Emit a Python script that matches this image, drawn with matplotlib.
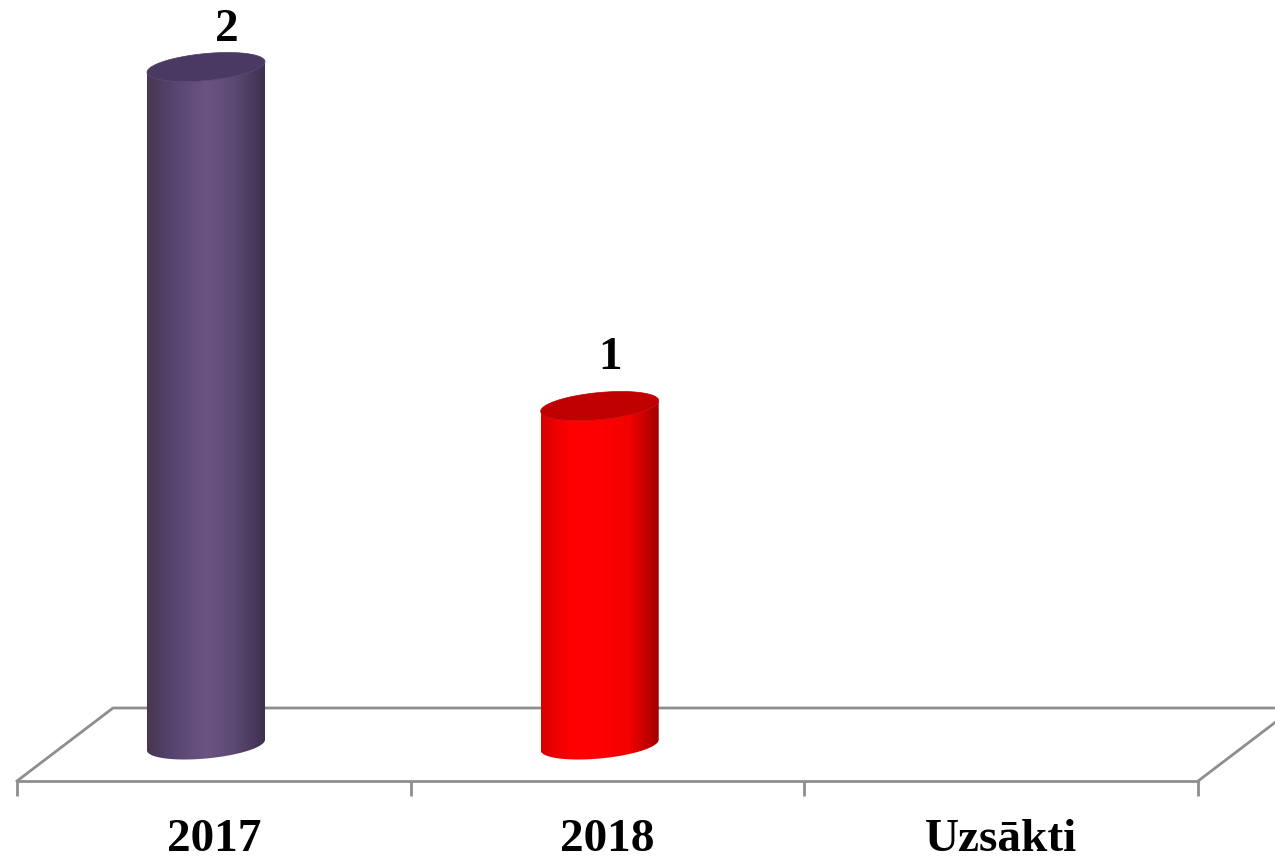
import numpy as np
import matplotlib
matplotlib.use("Agg")
import matplotlib.pyplot as plt
from matplotlib.colors import LinearSegmentedColormap
from matplotlib.patches import Polygon
from matplotlib.ticker import FixedLocator, FixedFormatter, NullFormatter

categories = ["2017", "2018", "Uzsākti"]
values = [2, 1, 0]
value_labels = ["2", "1", ""]
side_colors = [
    ["#463753", "#5a4672", "#6b5482", "#5c4872", "#3e3050"],
    ["#d80000", "#ff0000", "#ff0000", "#f40000", "#a00000"],
    ["#ffffff", "#ffffff", "#ffffff", "#ffffff", "#ffffff"],
]
top_colors = ["#4a3a63", "#c00000", "#ffffff"]
label_offsets = [(21, 37), (10, 48), (0, 0)]

W, H = 1275, 858
PX_X, PX_Y = 393.7, 339.0
X0_PX, Y0_PX = 206.0, 745.0

plt.rcParams["font.family"] = ["Liberation Serif", "DejaVu Serif"]
fig = plt.figure(figsize=(W / 100, H / 100), dpi=100, facecolor="white")
ax = fig.add_axes([0, 0, 1, 1])
ax.set_xlim(-X0_PX / PX_X, (W - X0_PX) / PX_X)
ax.set_ylim((Y0_PX - H) / PX_Y, Y0_PX / PX_Y)
ax.patch.set_alpha(0)

GREY = "#8e8e8e"
LW = 2.0
front_y = (745 - 781) / PX_Y
back_y = (745 - 708) / PX_Y
depth_x = 96 / PX_X
edges = np.array([-0.48, 0.52, 1.52, 2.52])
n = len(categories)

# floor back lines
ax.plot([edges[0], edges[0] + depth_x, ax.get_xlim()[1]], [front_y, back_y, back_y],
        color=GREY, lw=LW, solid_joinstyle="miter", zorder=1)
ax.plot([edges[-1], edges[-1] + depth_x], [front_y, back_y], color=GREY, lw=LW, zorder=1)

# axis
for s in ["top", "left", "right"]:
    ax.spines[s].set_visible(False)
ax.spines["bottom"].set_position(("data", front_y))
ax.spines["bottom"].set_bounds(edges[0], edges[-1])
ax.spines["bottom"].set_color(GREY)
ax.spines["bottom"].set_linewidth(LW)
ax.yaxis.set_visible(False)
ax.xaxis.set_major_locator(FixedLocator(edges))
ax.xaxis.set_major_formatter(NullFormatter())
ax.xaxis.set_minor_locator(FixedLocator(np.arange(n) + 0.02))
ax.xaxis.set_minor_formatter(FixedFormatter(categories))
ax.tick_params(axis="x", which="major", length=10.5, width=LW, color=GREY)
ax.tick_params(axis="x", which="minor", length=0, pad=27.5, labelsize=34, labelcolor="black")
for t in ax.xaxis.get_minorticklabels():
    t.set_fontweight("bold")

# cylinders
half_w = 59 / PX_X
tilt = 5.3 / PX_Y
minor = 13.5 / PX_Y
t = np.linspace(0, 2 * np.pi, 181)
xlim, ylim = ax.get_xlim(), ax.get_ylim()
for i, v in enumerate(values):
    if v <= 0:
        continue
    ex = i + half_w * np.cos(t)
    lower = t[t <= np.pi]  # right -> left through the lower side
    bx = i + half_w * np.cos(lower)
    by = tilt * np.cos(lower) - minor * np.sin(lower)
    tx = i + half_w * np.cos(lower[::-1])
    ty = v + tilt * np.cos(lower[::-1]) - minor * np.sin(lower[::-1])
    body = Polygon(np.column_stack([np.r_[bx, tx], np.r_[by, ty]]), closed=True,
                   fc="none", ec="none", transform=ax.transData, zorder=2)
    ax.add_patch(body)
    cmap = LinearSegmentedColormap.from_list(f"c{i}", side_colors[i])
    im = ax.imshow(np.linspace(0, 1, 256)[None, :], cmap=cmap, aspect="auto",
                   extent=[i - half_w, i + half_w, -0.2, v + 0.2], zorder=2.1,
                   interpolation="bilinear")
    im.set_clip_path(body)
    top = Polygon(np.column_stack([ex, v + tilt * np.cos(t) + minor * np.sin(t)]),
                  closed=True, fc=top_colors[i], ec=top_colors[i], lw=0.5, zorder=3)
    ax.add_patch(top)
    ax.annotate(value_labels[i], (i, v), xytext=label_offsets[i], textcoords="offset pixels",
                ha="center", va="center", fontsize=34, fontweight="bold", color="black", zorder=4)
ax.set_xlim(xlim)
ax.set_ylim(ylim)

fig.savefig("out.png", dpi=100, facecolor="white")
